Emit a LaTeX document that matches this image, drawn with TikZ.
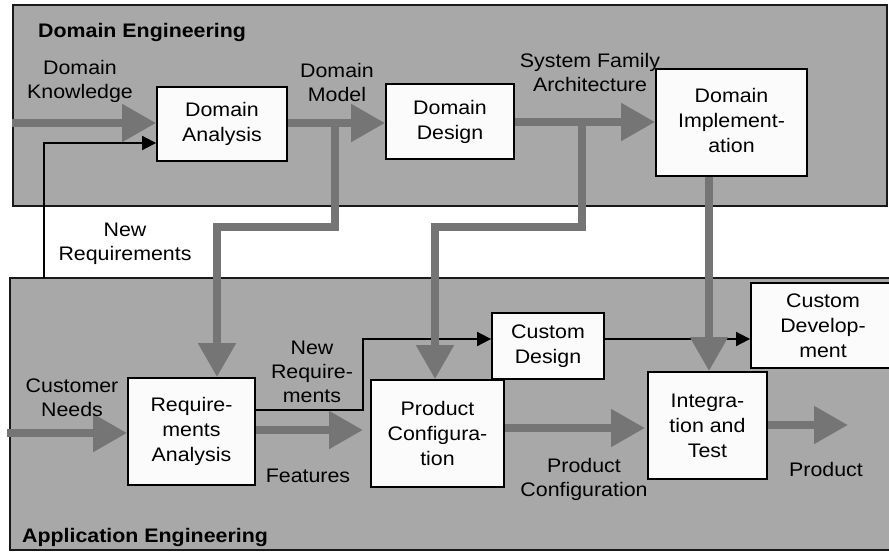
\documentclass[tikz,border=0pt]{standalone}
\usepackage{fontspec}
\setmainfont{Liberation Sans}[FakeStretch=1.09]
\usetikzlibrary{arrows.meta}
\definecolor{panelgray}{gray}{0.66}
\definecolor{flowgray}{gray}{0.46}
\definecolor{boxwhite}{gray}{0.985}
\begin{document}
\begin{tikzpicture}[x=1pt,y=-1pt,
  panel/.style={draw=black!90, line width=1.6pt, fill=panelgray},
  procbox/.style={draw=black, line width=1.8pt, fill=boxwhite, inner sep=0pt,
    align=center, font=\fontsize{19.6}{25}\selectfont},
  lbl/.style={inner sep=0pt, align=center, font=\fontsize{19.6}{24}\selectfont},
  heading/.style={inner sep=0pt, font=\bfseries\fontsize{19.6}{24}\selectfont},
  flow/.style={draw=flowgray, line width=8pt, line join=miter,
    -{Triangle[length=34pt,width=36pt]}},
  ctrl/.style={draw=black, line width=1.8pt, line join=miter,
    -{Triangle[length=14pt,width=14pt]}}]
\useasboundingbox (0,0) rectangle (889,552);
\fill[white] (0,0) rectangle (889,552);

% the two engineering areas
\draw[panel] (13,5) rectangle (887,206);
\draw[panel] (10,278) rectangle (895,550);

% process boxes
\node[procbox, minimum width=130pt, minimum height=74pt] (da) at (222,124) {Domain\\Analysis};
\node[procbox, minimum width=128pt, minimum height=75pt] (dd) at (450,121.5) {Domain\\Design};
\node[procbox, minimum width=151pt, minimum height=107pt] (di) at (731.5,122.5) {Domain\\Implement-\\ation\vphantom{g}};
\node[procbox, minimum width=127pt, minimum height=107pt] (ra) at (191.5,431.5) {Require-\\ments\\Analysis};
\node[procbox, minimum width=133pt, minimum height=107pt] (pc) at (437.5,433.5) {Product\\Configura-\\tion};
\node[procbox, minimum width=112pt, minimum height=66pt] (cd) at (548,346) {Custom\\Design};
\node[procbox, minimum width=119pt, minimum height=107pt] (it) at (707.5,425.5) {Integra-\\tion and\\Test};
\node[procbox, minimum width=144pt, minimum height=85pt] (cdev) at (823,325.5) {Custom\\Develop-\\ment};

% helper points for connectors
\coordinate (dkin) at (12,123);
\coordinate (ddrow) at (0,122);
\coordinate (dicol) at (709,0);
\coordinate (cnin) at (7,433);
\coordinate (prodout) at (848,425);
\coordinate (fbfoot) at (44,278);
\coordinate (fbtop) at (44,143);
\coordinate (nrlow) at (0,410);
\coordinate (nrbend) at (363,339);
\coordinate (feat) at (363,430);
\coordinate (br1) at (335,227);
\coordinate (br1b) at (217,227);
\coordinate (br2) at (582,227);
\coordinate (br2b) at (435,227);
\coordinate (pcfg) at (645,428);

% thin control connectors
\draw[ctrl] (fbfoot) -- (fbtop) -- (da.west |- fbtop);
\draw[ctrl] (ra.east |- nrlow) -| (nrbend) -- (cd.west |- nrbend);
\draw[ctrl] (cd.east |- nrbend) -- (cdev.west |- nrbend);

% broad work-product flows
\draw[flow] (dkin) -- (da.west |- dkin);
\draw[flow] (da.east |- dkin) -- (dd.west |- dkin);
\draw[flow] (dd.east |- ddrow) -- (di.west |- ddrow);
\draw[flow] (br1 |- dkin) -- (br1) -- (br1b) -- (ra.north -| br1b);
\draw[flow] (br2 |- ddrow) -- (br2) -- (br2b) -- (pc.north -| br2b);
\draw[flow] (di.south -| dicol) -- (it.north -| dicol);
\draw[flow] (cnin) -- (ra.west |- cnin);
\draw[flow] (ra.east |- feat) -- (feat);
\draw[flow] (pc.east |- pcfg) -- (pcfg);
\draw[flow] (it.east |- prodout) -- (prodout);

% headings and labels
\node[heading, anchor=base west] (dehead) at (38,37) {Domain Engineering};
\node[heading, anchor=base west] (aehead) at (22,542) {Application Engineering};
\node[lbl] (ldk) at (80,81) {Domain\\Knowledge};
\node[lbl] (ldm) at (337,82) {Domain\\Model};
\node[lbl] (lsfa) at (590,72) {System Family\\Architecture};
\node[lbl] (lnr) at (125,243.5) {New\\Requirements};
\node[lbl] (lnr2) at (312,372) {New\\Require-\\ments};
\node[lbl] (lcn) at (72,398) {Customer\\Needs};
\node[lbl] (lft) at (308,476) {Features};
\node[lbl] (lpc) at (584,479) {Product\\Configuration};
\node[lbl] (lpr) at (826,469) {Product};
\end{tikzpicture}
\end{document}
